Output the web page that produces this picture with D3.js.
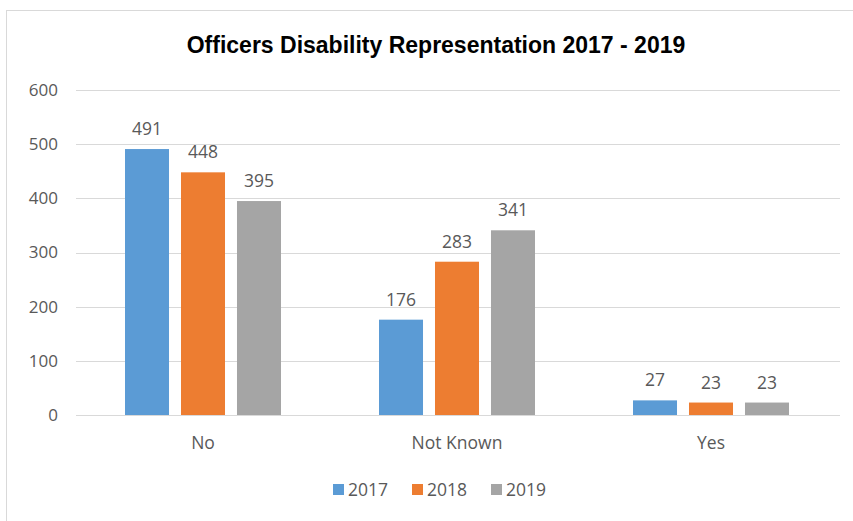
<!DOCTYPE html>
<html>
<head>
    <meta charset="utf-8">
    <title>Officers Disability Representation 2017 - 2019</title>
    <style>
        body { margin: 0; background: #fff; }
        text { font-family: "Open Sans", "Liberation Sans", Arial, sans-serif; fill: #595959; }
    </style>
</head>
<body>
<script src="https://d3js.org/d3.v7.min.js"></script>
<script>
    // Data
    const categories = ['No', 'Not Known', 'Yes'];
    const years = ['2017', '2018', '2019'];
    const values2017 = [491, 176, 27];
    const values2018 = [448, 283, 23];
    const values2019 = [395, 341, 23];
    const yTicks = [0, 100, 200, 300, 400, 500, 600];
    const colors = ['#5B9BD5', '#ED7D31', '#A5A5A5'];

    const series = [values2017, values2018, values2019];

    const W = 853, H = 521;
    const M = {left: 76, right: 15, top: 90, bottom: 106};

    const svg = d3.select('body').append('svg')
        .attr('width', W)
        .attr('height', H);

    // chart frame
    svg.append('rect')
        .attr('x', 6.5).attr('y', 10.5)
        .attr('width', W).attr('height', H)
        .attr('fill', 'none')
        .attr('stroke', '#D9D9D9');

    svg.append('text')
        .attr('x', 436).attr('y', 53)
        .attr('text-anchor', 'middle')
        .style('font-family', '"Liberation Sans", Arial, sans-serif')
        .style('font-size', '23px')
        .style('font-weight', 'bold')
        .style('fill', '#000')
        .text('Officers Disability Representation 2017 - 2019');

    const y = d3.scaleLinear().domain([0, 600]).range([H - M.bottom, M.top]);
    const x0 = d3.scaleBand().domain(categories).range([M.left, W - M.right]);
    const x1 = d3.scaleBand().domain(years)
        .range([49, x0.bandwidth() - 49])
        .paddingInner(0.214);

    // grid
    svg.append('g').selectAll('line')
        .data(yTicks)
        .join('line')
        .attr('x1', M.left).attr('x2', W - 13)
        .attr('y1', d => Math.round(y(d)) + 0.5)
        .attr('y2', d => Math.round(y(d)) + 0.5)
        .attr('stroke', '#D9D9D9');

    // y axis labels
    svg.append('g').selectAll('text')
        .data(yTicks)
        .join('text')
        .attr('x', 58)
        .attr('y', d => y(d))
        .attr('dy', '0.35em')
        .attr('text-anchor', 'end')
        .style('font-size', '17px')
        .text(d => d);

    // bars
    const groups = svg.append('g').selectAll('g')
        .data(categories)
        .join('g')
        .attr('transform', d => `translate(${x0(d)},0)`);

    groups.selectAll('rect')
        .data((c, i) => years.map((yr, j) => ({yr, v: series[j][i], j})))
        .join('rect')
        .attr('x', d => x1(d.yr))
        .attr('width', x1.bandwidth())
        .attr('y', d => y(d.v))
        .attr('height', d => y(0) - y(d.v))
        .attr('fill', d => colors[d.j]);

    groups.selectAll('text')
        .data((c, i) => years.map((yr, j) => ({yr, v: series[j][i], j})))
        .join('text')
        .attr('x', d => x1(d.yr) + x1.bandwidth() / 2)
        .attr('y', d => y(d.v) - 14)
        .attr('text-anchor', 'middle')
        .style('font-size', '17.5px')
        .text(d => d.v);

    // category labels
    svg.append('g').selectAll('text')
        .data(categories)
        .join('text')
        .attr('x', d => x0(d) + x0.bandwidth() / 2)
        .attr('y', 449)
        .attr('text-anchor', 'middle')
        .style('font-size', '17.5px')
        .text(d => d);

    // legend
    const legend = svg.append('g').selectAll('g')
        .data(years)
        .join('g')
        .attr('transform', (d, i) => `translate(${333 + i * 79},490)`);
    legend.append('rect')
        .attr('x', 0).attr('y', -6)
        .attr('width', 11).attr('height', 11)
        .attr('fill', (d, i) => colors[i]);
    legend.append('text')
        .attr('x', 15).attr('y', 0)
        .attr('dy', '0.35em')
        .style('font-size', '17.5px')
        .text(d => d);
</script>
</body>
</html>
